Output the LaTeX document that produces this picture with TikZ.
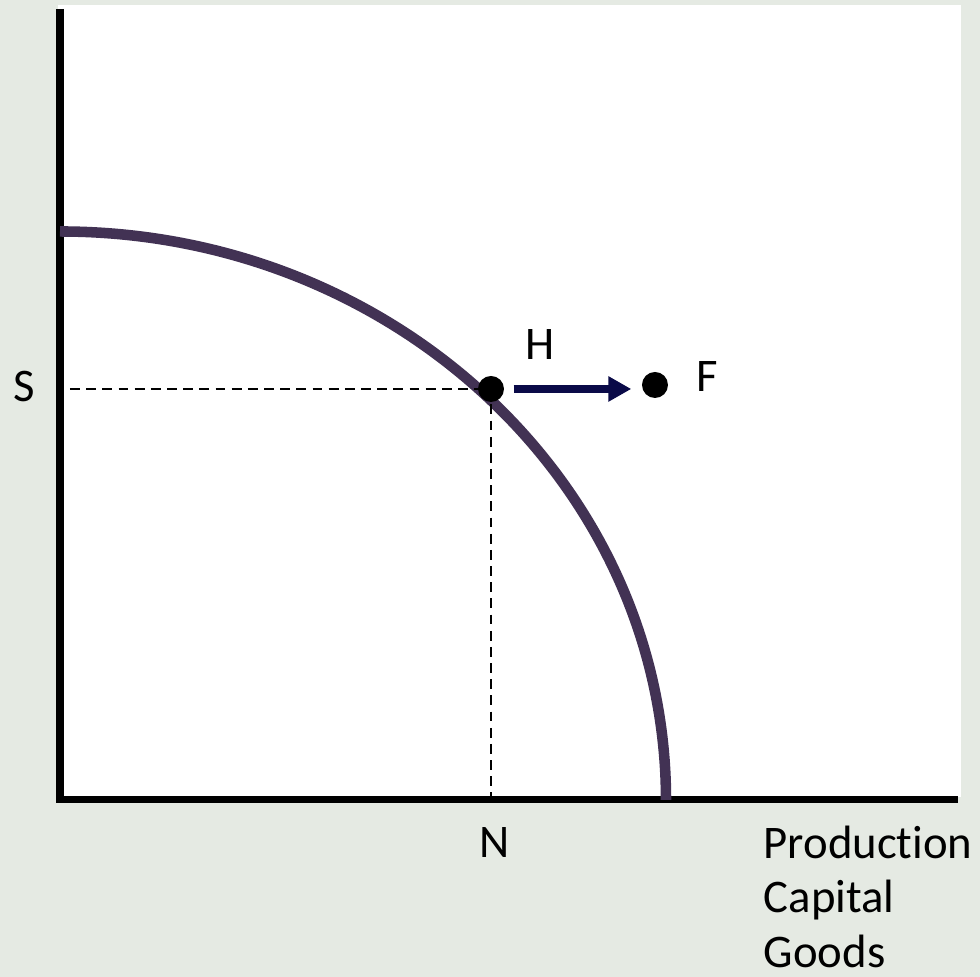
\documentclass[tikz,border=0pt]{standalone}
\usepackage{fontspec}
\setmainfont{Carlito}[Ligatures=NoCommon]
\usetikzlibrary{arrows.meta}
\definecolor{bgcol}{RGB}{229,234,227}
\definecolor{ppfcol}{RGB}{66,50,84}
\definecolor{arrcol}{RGB}{10,10,72}
\begin{document}
\begin{tikzpicture}[
    dot/.style={circle, fill=black, inner sep=0pt, minimum size=0.26cm},
    lbl/.style={font=\fontsize{13.3}{15.6}\selectfont, inner sep=0pt},
    guide/.style={line width=0.6pt, dash pattern=on 2.8pt off 1.8pt},
    axisline/.style={line width=2pt},
  ]
        % Background and plot area
        \fill[bgcol] (-0.60,-1.77) rectangle (9.20,8.00);
        \fill[white] (-0.02,0.03) rectangle (9.01,7.95);
        % Axes
        \coordinate (top) at (0,7.91);
        \coordinate (o) at (0,0);
        \coordinate (right) at (8.98,0);
        \draw[axisline] (top) -- (o) -- (right);
        % Curve
        \draw[ppfcol, line width=3pt] (0,5.685) arc[start angle=90, end angle=0, x radius=6.06, y radius=5.685];
        % Guides
        \coordinate (Hpt) at (4.31,4.11);
        \coordinate (Sy) at (0.10,4.11);
        \coordinate (Nx) at (4.31,0);
        \draw[guide] (Sy) -- (Hpt) -- (Nx);
        % Points
        \node[dot] (H) at (Hpt) {};
        \node[dot] (F) at (5.95,4.15) {};
        \draw[arrcol, line width=2.2pt, -{Triangle[length=0.23cm, width=0.24cm]}]
          ([xshift=0.09cm]H.east) -- ([xshift=-0.10cm]F.west |- H.east);
        % Labels
        \node[lbl] (Hlab) at (4.80,4.55) {H};
        \node[lbl] (Flab) at (6.47,4.23) {F};
        \node[lbl] (Slab) at (-0.36,4.135) {S};
        \node[lbl] (Nlab) at (4.345,-0.43) {N};
        \node[lbl, align=left, anchor=north west] (xlab) at (7.03,-0.25) {Production\\Capital\\Goods};
      \end{tikzpicture}
\end{document}
